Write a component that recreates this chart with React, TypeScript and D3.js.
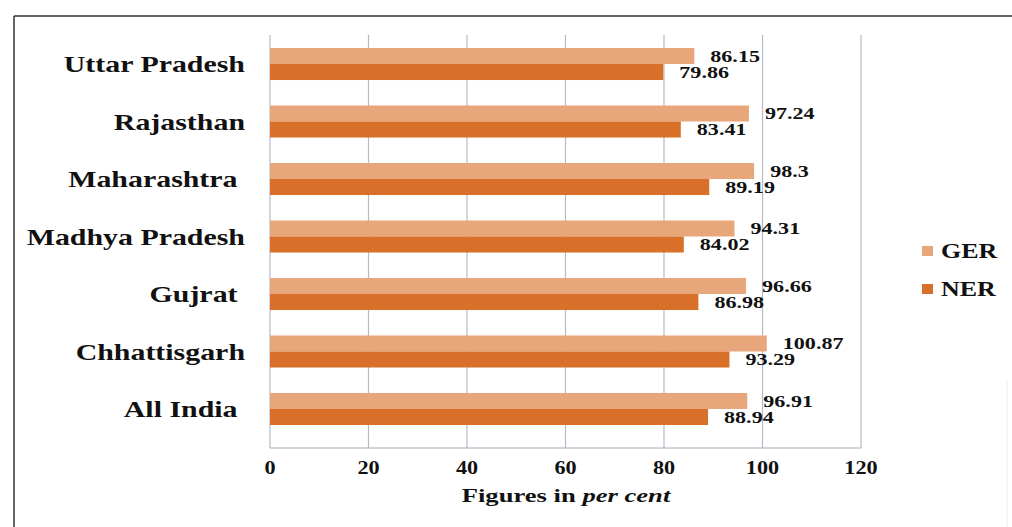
import React from 'react';
import * as d3 from 'd3';

const states = ['Uttar Pradesh', 'Rajasthan', 'Maharashtra ', 'Madhya Pradesh', 'Gujrat ', 'Chhattisgarh', 'All India '];
const gerValues = [86.15, 97.24, 98.3, 94.31, 96.66, 100.87, 96.91];
const nerValues = [79.86, 83.41, 89.19, 84.02, 86.98, 93.29, 88.94];
const seriesNames = ['GER', 'NER'];
const xTicks = [0, 20, 40, 60, 80, 100, 120];

const COLORS: Record<string, string> = {
  GER: '#e8a77b',
  NER: '#d8702a',
};

const W = 1012;
const H = 527;
const FONT = '"Liberation Serif", "Times New Roman", serif';

// the scanned chart is stretched sideways, so text gets a horizontal scale
function Label({ x, y, sx = 1.3, anchor = 'start', size, children, pre = false }: any) {
  return (
    <text
      transform={`translate(${x},${y}) scale(${sx},1)`}
      dy="0.35em"
      textAnchor={anchor}
      fontSize={size}
      fontWeight="bold"
      fill="#111"
      style={pre ? { whiteSpace: 'pre' } : undefined}
    >
      {children}
    </text>
  );
}

export default function App() {
  const x = d3.scaleLinear().domain([0, 120]).range([270, 861]);
  const yBottom = 448;
  const y = d3
    .scaleBand<string>()
    .domain(states)
    .range([48, yBottom])
    .paddingInner(0.443)
    .paddingOuter(0.2)
    .align(0);
  const sub = d3.scaleBand<string>().domain(seriesNames).range([0, y.bandwidth()]);

  const rows = states.map((s, i) => ({ state: s, GER: gerValues[i], NER: nerValues[i] }));

  return (
    <svg
      width={W}
      height={H}
      style={{ position: 'absolute', left: 0, top: 0, background: '#fff', fontFamily: FONT }}
    >
      {/* scanned frame */}
      <line x1={14} x2={W} y1={16} y2={16} stroke="#333" strokeWidth={1.5} />
      <line x1={14} x2={14} y1={16} y2={H} stroke="#333" strokeWidth={1.5} />
      <line x1={1007} x2={1007} y1={380} y2={H} stroke="#eee" strokeWidth={1} />

      {/* grid */}
      {xTicks.map((t) => (
        <line key={t} x1={x(t)} x2={x(t)} y1={35} y2={yBottom} stroke="#b5b9cc" strokeWidth={1.2} />
      ))}
      <line x1={x(0)} x2={x(120)} y1={yBottom} y2={yBottom} stroke="#a9abb3" strokeWidth={1.2} />

      {/* bars */}
      {rows.map((r) => (
        <g key={r.state} transform={`translate(0,${y(r.state)})`}>
          {seriesNames.map((k) => {
            const v = (r as any)[k] as number;
            const by = sub(k)!;
            const bh = sub.bandwidth();
            return (
              <g key={k}>
                <rect x={x(0)} y={by} width={x(v) - x(0)} height={bh} fill={COLORS[k]} />
                <Label x={x(v) + 16} y={by + bh / 2} size={17}>
                  {v}
                </Label>
              </g>
            );
          })}
          <Label x={245} y={y.bandwidth() / 2} anchor="end" size={23} pre>
            {r.state}
          </Label>
        </g>
      ))}

      {/* x tick labels */}
      {xTicks.map((t) => (
        <Label key={t} x={x(t)} y={467} anchor="middle" size={19} sx={1.17}>
          {t}
        </Label>
      ))}
      <Label x={566} y={495} anchor="middle" size={19} sx={1.4}>
        Figures in <tspan fontStyle="italic">per cent</tspan>
      </Label>

      {/* legend */}
      {seriesNames.map((k, i) => (
        <g key={k} transform={`translate(922,${251 + i * 38})`}>
          <rect x={0} y={-5} width={11} height={10} fill={COLORS[k]} />
          <Label x={19} y={0} size={20}>
            {k}
          </Label>
        </g>
      ))}
    </svg>
  );
}
